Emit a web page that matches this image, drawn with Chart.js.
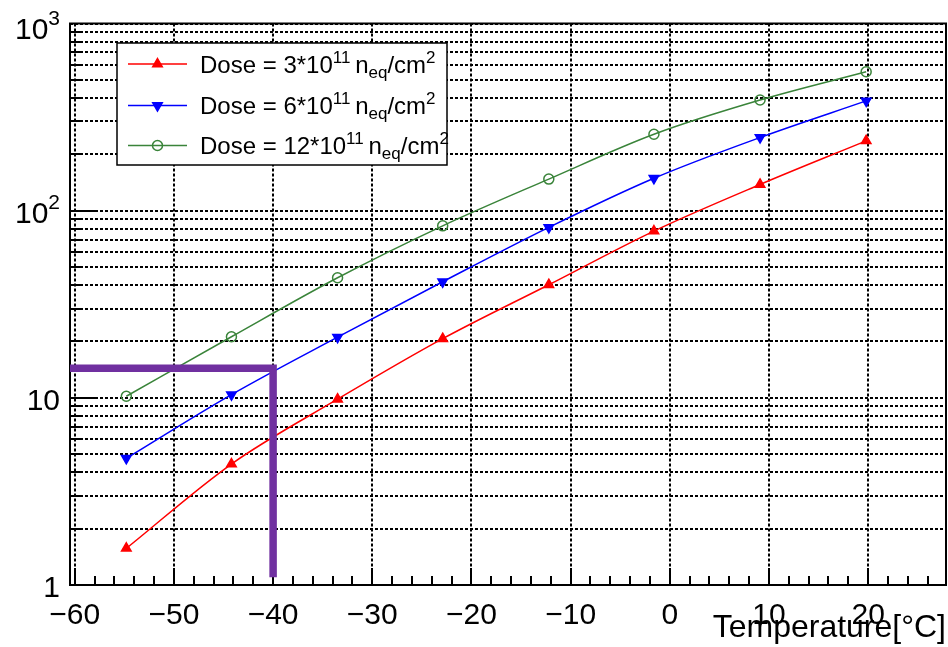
<!DOCTYPE html>
<html><head><meta charset="utf-8">
<script src="https://cdn.jsdelivr.net/npm/chart.js@4/dist/chart.umd.min.js"></script>
<style>html,body{margin:0;padding:0;background:#fff;overflow:hidden}</style>
</head><body>
<canvas id="c" width="948" height="647"></canvas>
<script>
// ---- data ----
const temperatures = [-54.8, -44.2, -33.5, -22.9, -12.2, -1.6, 9.1, 19.8];
const dose3  = [1.57, 4.43, 9.83, 20.7, 40.2, 77.8, 138, 236];
const dose6  = [4.75, 10.4, 21.1, 41.7, 81.4, 149, 246, 386];
const dose12 = [10.2, 21.2, 43.8, 83.0, 147.5, 256, 390, 552];
const doseFactors = ['3', '6', '12'];
const guideX = [-60.48, -40, -40];
const guideY = [14.4, 14.4, 1.1];
const yLabelExponents = [0, 1, 2, 3];
const yMantissas = [1, 2, 3, 4, 5, 6, 7, 8, 9];
const xTitle = 'Temperature[°C]';

const FONT = '"Liberation Sans", Arial, Helvetica, sans-serif';
const colors = ['#ff0000', '#0000ff', '#3a843a'];

function pts(ys){ return temperatures.map((t,i)=>({x:t, y:ys[i]})); }

const seriesStyles = [
  {pointStyle:'triangle', rotation:0,   fill:'#ff0000', radius:5.5},
  {pointStyle:'triangle', rotation:180, fill:'#0000ff', radius:5.5},
  {pointStyle:'circle',   rotation:0,   fill:'rgba(0,0,0,0)', radius:5}
];

function makeDs(i, ys){
  const s = seriesStyles[i];
  return {
    label: 'Dose = ' + doseFactors[i] + '*10^11 n_eq/cm^2',
    data: pts(ys), showLine: true,
    borderColor: colors[i], borderWidth: 1.5,
    backgroundColor: s.fill,
    pointStyle: s.pointStyle, pointRotation: s.rotation, pointRadius: s.radius,
    pointBackgroundColor: s.fill, pointBorderColor: colors[i], pointBorderWidth: 1.5,
    cubicInterpolationMode: 'monotone', order: 1
  };
}

const rootStyle = {
  id: 'rootStyle',
  beforeDatasetsDraw(chart){
    const {ctx, chartArea:a, scales:{x, y}} = chart;
    ctx.save();
    ctx.strokeStyle = '#000'; ctx.lineWidth = 2;
    ctx.beginPath();
    for (let v = -60; v <= x.max; v += 2) {
      const px = Math.round(x.getPixelForValue(v));
      const len = (v % 10 === 0) ? 17 : 9;
      ctx.moveTo(px, a.bottom); ctx.lineTo(px, a.bottom - len);
    }
    for (const t of y.ticks) {
      if (t.value >= y.max) continue;
      const py = Math.round(y.getPixelForValue(t.value));
      const len = t.major ? 27 : 13;
      ctx.moveTo(a.left, py); ctx.lineTo(a.left + len, py);
    }
    ctx.stroke();
    ctx.strokeRect(a.left, a.top, a.right - a.left, a.bottom - a.top);
    ctx.restore();
  },
  afterDraw(chart){
    const {ctx, scales:{y}} = chart;
    ctx.save();
    ctx.fillStyle = '#000';
    ctx.textBaseline = 'alphabetic';
    // y labels
    for (const e of yLabelExponents) {
      const py = y.getPixelForValue(Math.pow(10, e));
      const base = Math.max(py + 12, 39);
      const right = 60;
      if (e <= 1) {
        ctx.font = '30px ' + FONT; ctx.textAlign = 'right';
        ctx.fillText(e === 0 ? '1' : '10', right, base);
      } else {
        ctx.font = '21px ' + FONT;
        const sw = ctx.measureText(String(e)).width;
        ctx.textAlign = 'left';
        ctx.fillText(String(e), right - sw, base - 14);
        ctx.font = '30px ' + FONT; ctx.textAlign = 'right';
        ctx.fillText('10', right - sw, base);
      }
    }
    // legend
    const L = {x1:117, y1:43, x2:447, y2:165};
    ctx.fillStyle = '#fff';
    ctx.fillRect(L.x1, L.y1, L.x2 - L.x1, L.y2 - L.y1);
    ctx.strokeStyle = '#000'; ctx.lineWidth = 1.5;
    ctx.strokeRect(L.x1, L.y1, L.x2 - L.x1, L.y2 - L.y1);
    const rows = [64, 105.5, 145.5];
    ctx.textAlign = 'left';
    for (let i = 0; i < 3; i++) {
      const cy = rows[i];
      const s = seriesStyles[i];
      ctx.strokeStyle = colors[i]; ctx.lineWidth = 1.5;
      ctx.beginPath(); ctx.moveTo(128, cy); ctx.lineTo(187, cy); ctx.stroke();
      ctx.fillStyle = s.fill; ctx.strokeStyle = colors[i]; ctx.lineWidth = 1.5;
      Chart.helpers.drawPoint(ctx, {pointStyle:s.pointStyle, rotation:s.rotation, radius:s.radius, borderWidth:1.5}, 157.5, cy);
      ctx.fillStyle = '#000';
      const parts = [
        {t:'Dose = ' + doseFactors[i] + '*10', k:'n'},
        {t:'11', k:'sup'}, {t:' ', k:'s'},
        {t:'n', k:'n'}, {t:'eq', k:'sub'}, {t:'/cm', k:'n'}, {t:'2', k:'sup'}
      ];
      let tx = 200; const base = cy + 8.5;
      for (const p of parts) {
        const size = p.k === 'n' ? 24 : 17;
        const dy = p.k === 'sup' ? -10 : (p.k === 'sub' ? 5 : 0);
        ctx.font = size + 'px ' + FONT;
        ctx.fillText(p.t, tx, base + dy);
        tx += ctx.measureText(p.t).width;
      }
    }
    ctx.restore();
  }
};

new Chart(document.getElementById('c'), {
  type: 'scatter',
  data: {
    datasets: [
      {label:'guide', data: guideX.map((v,i)=>({x:v, y:guideY[i]})), showLine:true,
       borderColor:'#7030a0', borderWidth:7.5, pointRadius:0, borderJoinStyle:'miter',
       borderCapStyle:'butt', tension:0, order:-1},
      makeDs(0, dose3), makeDs(1, dose6), makeDs(2, dose12)
    ]
  },
  options: {
    responsive: false, devicePixelRatio: 1, animation: false,
    layout: {autoPadding: false, padding: {top: 23.5, right: 2, left: 0, bottom: 0}},
    plugins: {legend: {display:false}, tooltip: {enabled:false}, title:{display:false}},
    scales: {
      x: {
        type: 'linear', min: -60.48, max: 27.85,
        ticks: {stepSize: 10, includeBounds: false, autoSkip: false, maxRotation: 0,
          color: '#000', padding: 13, font: {family: FONT, size: 30},
          callback: v => (v < 0 ? '\u2212' + (-v) : String(v))},
        grid: {color: '#000', lineWidth: 2, drawTicks: false},
        border: {display: false, dash: [3, 2]},
        title: {display: true, text: xTitle, align: 'end', color: '#000',
          font: {family: FONT, size: 32}, padding: {top: 0, bottom: 0}},
        afterFit: s => { s.height = 62; s.paddingLeft = 0; s.paddingRight = 0; }
      },
      y: {
        type: 'logarithmic', min: 1, max: 1000,
        ticks: {display: false, autoSkip: false},
        afterBuildTicks: s => {
          const t = [];
          for (const e of yLabelExponents) for (const m of yMantissas) {
            const v = m * Math.pow(10, e);
            if (v <= s.max) t.push({value: v, major: m === 1});
          }
          s.ticks = t;
        },
        grid: {color: '#000', lineWidth: 2, drawTicks: false},
        border: {display: false, dash: [3, 2]},
        afterFit: s => { s.width = 70; s.paddingTop = 0; s.paddingBottom = 0; }
      }
    }
  },
  plugins: [rootStyle]
});
</script>
</body></html>
